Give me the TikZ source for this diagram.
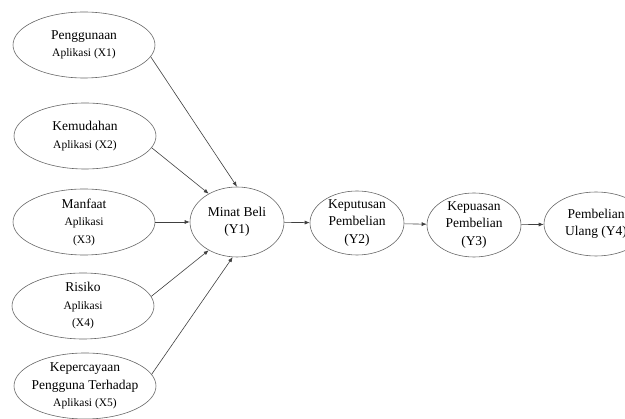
\documentclass[tikz,border=0pt]{standalone}
\usepackage{fontspec}
\setmainfont{Liberation Serif}
\usetikzlibrary{shapes.geometric, arrows.meta, positioning}

\newcommand{\smtxt}[1]{{\fontsize{11.5}{16}\selectfont #1}}

\begin{document}
\begin{tikzpicture}[
    x=1pt, y=-1pt,
    font=\fontsize{13.5}{17.5}\selectfont,
    >={Latex[length=5pt,width=4pt]},
    varbox/.style={ellipse, draw=black!60, line width=0.6pt, inner sep=-8pt, align=center, minimum width=142pt, minimum height=66pt},
    endbox/.style={varbox, minimum width=94pt, minimum height=66pt},
    arrow/.style={->, line width=0.6pt, draw=black!75}
]
    \clip (0,0) rectangle (625,419);
    % exogenous variables
    \node[varbox] (x1) at (84,45) {Penggunaan\\\smtxt{Aplikasi (X1)}};
    \node[varbox] (x2) at (85,136) {Kemudahan\\\smtxt{Aplikasi (X2)}};
    \node[varbox] (x3) at (84,222) {Manfaat\\\smtxt{Aplikasi}\\\smtxt{(X3)}};
    \node[varbox] (x4) at (83,306) {Risiko\\\smtxt{Aplikasi}\\\smtxt{(X4)}};
    \node[varbox] (x5) at (85,386) {Kepercayaan\\Pengguna Terhadap\\\smtxt{Aplikasi (X5)}};
    % chain
    \node[endbox, minimum height=70pt] (y1) at (237,222) {Minat Beli\\(Y1)};
    \node[endbox, minimum height=64pt] (y2) at (357,223) {Keputusan\\Pembelian\\(Y2)};
    \node[endbox, minimum height=64pt] (y3) at (474,225) {Kepuasan\\Pembelian\\(Y3)};
    \node[endbox, minimum width=104pt, minimum height=64pt] (y4) at (596,224) {Pembelian\\Ulang (Y4)};
    \draw[arrow] (x1.-10) -- (y1.north);
    \draw[arrow] (x2.-10) -- (y1.135);
    \draw[arrow] (x3.east) -- (y1.west);
    \draw[arrow] (x4.8) -- (y1.225);
    \draw[arrow] (x5.10) -- (y1.263);
    \draw[arrow] (y1) -- (y2);
    \draw[arrow] (y2) -- (y3);
    \draw[arrow] (y3) -- (y4);
\end{tikzpicture}
\end{document}
